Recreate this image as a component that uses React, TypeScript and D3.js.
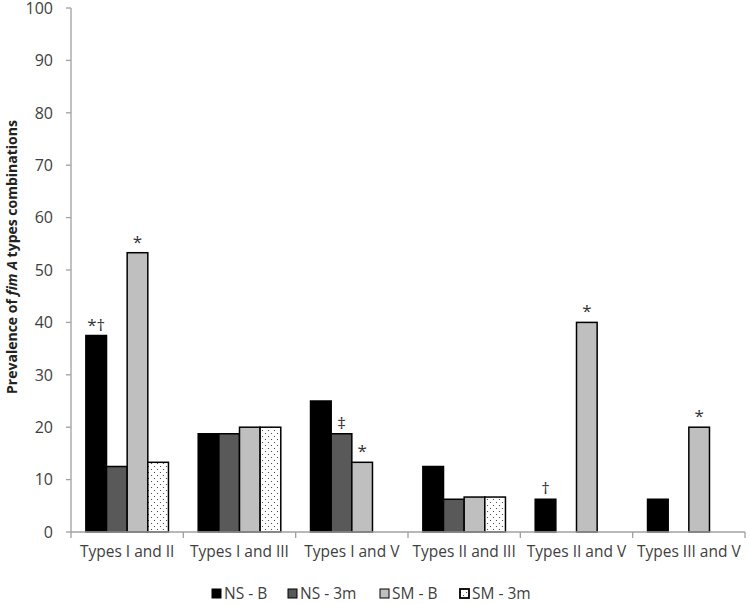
import React from "react";
import * as d3 from "d3";

const categories = [
  "Types I and II",
  "Types I and III",
  "Types I and V",
  "Types II and III",
  "Types II and V",
  "Types III and V",
];
const seriesNames = ["NS - B", "NS - 3m", "SM - B", "SM - 3m"];
const nsB = [37.5, 18.75, 25, 12.5, 6.25, 6.25];
const ns3m = [12.5, 18.75, 18.75, 6.25, 0, 0];
const smB = [53.3, 20, 13.3, 6.67, 40, 20];
const sm3m = [13.3, 20, 0, 6.67, 0, 0];
const yTicks = [0, 10, 20, 30, 40, 50, 60, 70, 80, 90, 100];
const annotations = [
  { cat: 0, series: 0, text: "*†" },
  { cat: 0, series: 2, text: "*" },
  { cat: 2, series: 1, text: "‡" },
  { cat: 2, series: 2, text: "*" },
  { cat: 4, series: 0, text: "†" },
  { cat: 4, series: 2, text: "*" },
  { cat: 5, series: 2, text: "*" },
];

const seriesValues = [nsB, ns3m, smB, sm3m];
const fills = ["#000000", "#595959", "#bfbfbf", "url(#dots)"];

const W = 750;
const H = 604;
const left = 71;
const right = 745;
const top = 8;
const bottom = 532;
const font = "'Open Sans', 'Noto Sans', sans-serif";

export default function App() {
  const x0 = d3.scaleBand<string>().domain(categories).range([left, right]).paddingInner(0).paddingOuter(0);
  const x1 = d3
    .scaleBand<string>()
    .domain(seriesNames)
    .range([0, x0.bandwidth()])
    .paddingInner(0)
    .paddingOuter(0.72);
  const y = d3.scaleLinear().domain([0, 100]).range([bottom, top]);

  const axisColor = "#a0a0a0";
  const boundaries = categories.map((c) => x0(c) as number).concat([right]);

  const legendX = [212, 288, 380, 460];

  return (
    <svg width={W} height={H} style={{ position: "absolute", left: 0, top: 0, background: "#fff" }}>
      <defs>
        <pattern id="dots" width="6" height="6" patternUnits="userSpaceOnUse">
          <rect width="6" height="6" fill="#ffffff" />
          <circle cx="1.5" cy="1.5" r="0.6" fill="#333" />
          <circle cx="4.5" cy="4.5" r="0.6" fill="#333" />
        </pattern>
      </defs>
      <rect width={W} height={H} fill="#fff" />

      {/* y axis */}
      <line x1={left} x2={left} y1={top} y2={bottom} stroke={axisColor} strokeWidth={1.3} />
      {yTicks.map((t) => (
        <g key={t}>
          <line x1={left - 5} x2={left} y1={y(t)} y2={y(t)} stroke={axisColor} strokeWidth={1.3} />
          <text
            x={53}
            y={y(t)}
            dy="0.36em"
            textAnchor="end"
            fontFamily={font}
            fontSize={16}
            fill="#404040"
          >
            {t}
          </text>
        </g>
      ))}

      {/* bars */}
      {categories.map((c, ci) => (
        <g key={c}>
          {seriesNames.map((s, si) => {
            const v = seriesValues[si][ci];
            if (!v) return null;
            return (
              <rect
                key={s}
                x={(x0(c) as number) + (x1(s) as number)}
                y={y(v)}
                width={x1.bandwidth()}
                height={bottom - y(v)}
                fill={fills[si]}
                stroke="#000"
                strokeWidth={1.5}
              />
            );
          })}
        </g>
      ))}

      {/* x axis */}
      <line x1={left} x2={right} y1={bottom} y2={bottom} stroke={axisColor} strokeWidth={1.3} />
      {boundaries.map((b, i) => (
        <line key={i} x1={b} x2={b} y1={bottom} y2={bottom + 6} stroke={axisColor} strokeWidth={1.3} />
      ))}
      {categories.map((c) => (
        <text
          key={c}
          x={(x0(c) as number) + x0.bandwidth() / 2}
          y={557}
          textAnchor="middle"
          fontFamily={font}
          fontSize={15.5}
          fill="#404040"
        >
          {c}
        </text>
      ))}

      {/* annotations */}
      {annotations.map((a, i) => {
        const c = categories[a.cat];
        const s = seriesNames[a.series];
        const v = seriesValues[a.series][a.cat];
        return (
          <text
            key={i}
            x={(x0(c) as number) + (x1(s) as number) + x1.bandwidth() / 2}
            y={y(v) - 5}
            textAnchor="middle"
            fontFamily={font}
            fontSize={17}
            fill="#333"
          >
            {a.text}
          </text>
        );
      })}

      {/* y title */}
      <text
        transform={`translate(17,257) rotate(-90)`}
        textAnchor="middle"
        fontFamily={font}
        fontSize={14}
        fontWeight="bold"
        fill="#222"
      >
        Prevalence of <tspan fontStyle="italic">fim A</tspan> types combinations
      </text>

      {/* legend */}
      {seriesNames.map((s, si) => (
        <g key={s}>
          <rect
            x={legendX[si]}
            y={589}
            width={9}
            height={9}
            fill={fills[si]}
            stroke="#000"
            strokeWidth={si === 3 ? 1.8 : 1}
          />
          <text x={legendX[si] + 12} y={599} fontFamily={font} fontSize={15.5} fill="#404040">
            {s}
          </text>
        </g>
      ))}
    </svg>
  );
}
